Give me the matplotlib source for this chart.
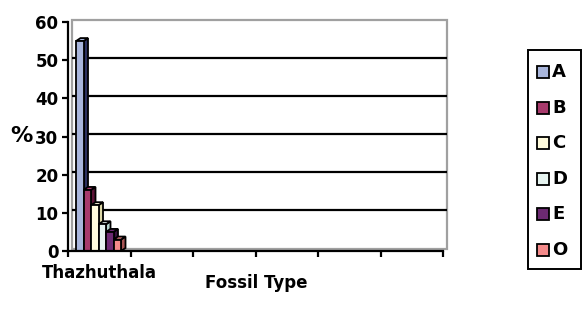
import matplotlib
matplotlib.use("Agg")
import matplotlib.pyplot as plt
from matplotlib.patches import Polygon, Rectangle

# Data
sites = ["Thazhuthala", "", "", "", "", ""]
series = ["A", "B", "C", "D", "E", "O"]
values = [55, 16, 12, 7, 5, 3]
front_colors = ["#a9b6dc", "#a83a6c", "#fffbdc", "#e6f4f0", "#6c2a72", "#f48a8a"]
side_colors = ["#2c3160", "#5c1236", "#ddd8a8", "#b4d4cc", "#36103c", "#a85454"]
top_colors = ["#a9b6dc", "#a83a6c", "#fffbdc", "#e6f4f0", "#6c2a72", "#f48a8a"]

W, H = 582, 321
fig = plt.figure(figsize=(W / 100, H / 100), dpi=100)
fig.patch.set_facecolor("white")

# axes placed in pixel terms
ax_l, ax_r, ax_b, ax_t = 68, 443, 251, 22
ax = fig.add_axes([ax_l / W, (H - ax_b) / H, (ax_r - ax_l) / W, (ax_b - ax_t) / H])
ax.set_xlim(0, 6)
ax.set_ylim(0, 60)
ax.set_facecolor("none")

px_x = 6 / (ax_r - ax_l)      # data units per pixel, x
px_y = 60 / (ax_b - ax_t)     # data units per pixel, y

# back wall offsets
wdx, wdy = 3.5 * px_x, 2.5 * px_y
# bar depth offsets
bdx, bdy = 4.5 * px_x, 3 * px_y

# back wall border
wall = Rectangle((wdx, wdy), 6, 60, facecolor="white", edgecolor="#a0a0a0",
                 lw=1.6, zorder=1, clip_on=False)
ax.add_patch(wall)

# gridlines on the back wall
for g in [10, 20, 30, 40, 50]:
    ax.plot([wdx, 6 + wdx], [g + wdy, g + wdy], color="black", lw=1.6,
            zorder=2, clip_on=False, solid_capstyle="butt")

# 3D columns for the first site
bw = 7.5 * px_x
x0 = 8 * px_x
for i, (v, fc, sc, tc) in enumerate(zip(values, front_colors, side_colors, top_colors)):
    x = x0 + i * bw
    z = 3 + i * 3
    ax.bar([x], [v], width=bw, align="edge", color=fc, edgecolor="black",
           lw=1.3, zorder=z + 2)
    side = Polygon([(x + bw, 0), (x + bw + bdx, bdy), (x + bw + bdx, v + bdy), (x + bw, v)],
                   closed=True, facecolor=sc, edgecolor="black", lw=1.3, zorder=z + 1,
                   clip_on=False)
    top = Polygon([(x, v), (x + bdx, v + bdy), (x + bw + bdx, v + bdy), (x + bw, v)],
                  closed=True, facecolor=tc, edgecolor="black", lw=1.3, zorder=z + 1,
                  clip_on=False)
    ax.add_patch(side)
    ax.add_patch(top)

# axes lines and ticks
for s in ["top", "right"]:
    ax.spines[s].set_visible(False)
ax.spines["left"].set_linewidth(1.6)
ax.spines["bottom"].set_linewidth(1.6)
ax.spines["left"].set_zorder(40)
ax.spines["bottom"].set_zorder(40)

ax.set_yticks([0, 10, 20, 30, 40, 50, 60])
ax.set_yticklabels(["0", "10", "20", "30", "40", "50", "60"])
ax.tick_params(axis="y", direction="out", length=4, width=1.6, pad=3,
               labelsize=12)
ax.set_xticks(range(7))
ax.set_xticklabels([""] * 7)
ax.set_xticks([i + 0.5 for i in range(6)], minor=True)
ax.set_xticklabels(sites, minor=True)
ax.tick_params(axis="x", which="major", direction="out", length=4, width=1.6)
ax.tick_params(axis="x", which="minor", length=0, pad=9, labelsize=12)
for lbl in ax.get_yticklabels() + ax.get_xticklabels(minor=True):
    lbl.set_fontweight("bold")

fig.text(21 / W, 1 - 136 / H, "%", fontsize=16, fontweight="bold",
         ha="center", va="center")
fig.text(256 / W, 1 - 283 / H, "Fossil Type", fontsize=12, fontweight="bold",
         ha="center", va="center")

# legend
lg = fig.add_axes([0, 0, 1, 1], facecolor="none")
lg.set_xlim(0, W)
lg.set_ylim(H, 0)
lg.axis("off")
lg.add_patch(Rectangle((528, 50), 53, 219, facecolor="white", edgecolor="black", lw=1.4))
for i, (name, fc) in enumerate(zip(series, front_colors)):
    yc = 72 + i * 35.6
    lg.add_patch(Rectangle((537, yc - 6), 12, 12, facecolor=fc, edgecolor="black", lw=1.3))
    lg.text(552, yc, name, fontsize=13, fontweight="bold", ha="left", va="center")

fig.savefig("out.png", dpi=100)
